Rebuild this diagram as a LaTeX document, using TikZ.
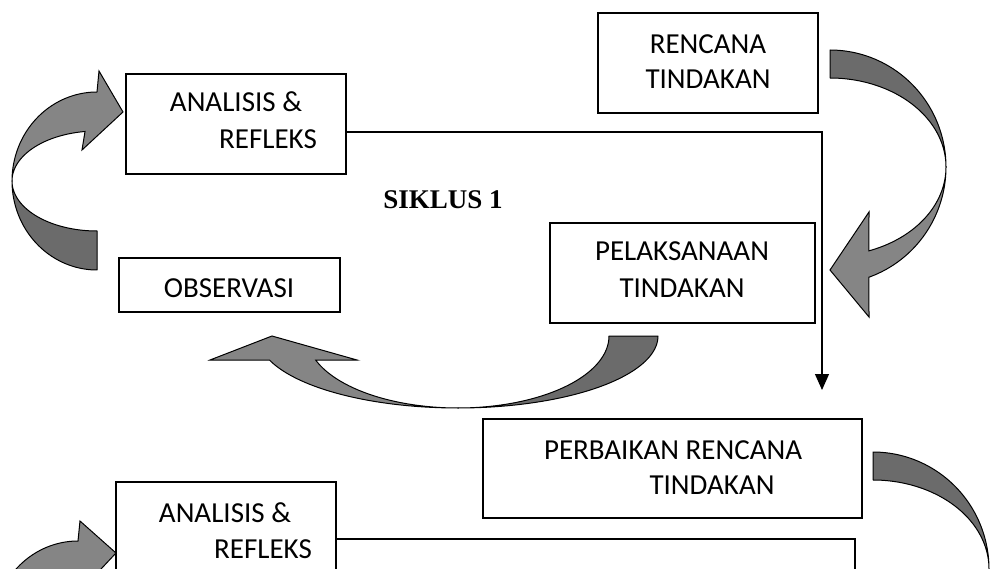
\documentclass[tikz,border=0pt]{standalone}
\usepackage{fontspec}
\setmainfont{Carlito}
\newfontfamily\serifb{Liberation Serif}
\usetikzlibrary{arrows.meta}
\definecolor{bandDark}{HTML}{6B6B6B}
\definecolor{bandLight}{HTML}{858585}
\begin{document}
\begin{tikzpicture}[x=1pt,y=-1pt,
  box/.style={draw=black, fill=white, line width=1.2pt, rectangle, inner sep=0pt, outer sep=0pt, anchor=north west},
  lbl/.style={anchor=base, inner sep=0pt, font=\fontsize{29}{35}\selectfont},
  darkband/.style={fill=bandDark, draw=black, line width=1pt, line join=round},
  lightband/.style={fill=bandLight, draw=black, line width=1pt, line join=miter},
  conn/.style={draw=black, line width=1.2pt},
  samples=45]
\useasboundingbox (0,0) rectangle (998,569);
\clip (0,0) rectangle (998,569);

% curved arrow: top-left (OBSERVASI -> ANALISIS)
\filldraw[darkband] plot[domain=180:90] ({97+85*cos(\x)},{181+89*sin(\x)}) -- plot[domain=90:180] ({97+85*cos(\x)},{181+50*sin(\x)}) -- cycle;
\filldraw[lightband] plot[domain=180:270] ({97+85*cos(\x)},{181+89*sin(\x)}) -- (99,71) -- (123,112) -- (82,150) -- plot[domain=261.9:180] ({97+85*cos(\x)},{181+50*sin(\x)}) -- cycle;

% curved arrow: right (RENCANA -> PELAKSANAAN)
\filldraw[darkband] plot[domain=-90:0] ({830+116*cos(\x)},{167+117*sin(\x)}) -- plot[domain=0:-90] ({830+116*cos(\x)},{167+89*sin(\x)}) -- cycle;
\filldraw[lightband] plot[domain=0:70.4] ({830+116*cos(\x)},{167+117*sin(\x)}) -- (869,317) -- (830,270) -- (869,212) -- plot[domain=70.4:0] ({830+116*cos(\x)},{167+89*sin(\x)}) -- cycle;

% curved arrow: bottom (PELAKSANAAN -> OBSERVASI)
\filldraw[darkband] plot[domain=0:90] ({458+200*cos(\x)},{336+72*sin(\x)}) -- plot[domain=90:0] ({458+151*cos(\x)},{336+72*sin(\x)}) -- cycle;
\filldraw[lightband] plot[domain=90:160.5] ({458+200*cos(\x)},{336+72*sin(\x)}) -- (210,360) -- (272,336) -- (357,360) -- plot[domain=160.5:90] ({458+151*cos(\x)},{336+72*sin(\x)}) -- cycle;

% curved arrow: bottom-left (partial)
\filldraw[lightband] plot[domain=180:270] ({78+85*cos(\x)},{630+89*sin(\x)}) -- (80,521) -- (116,553) -- (72,600) -- plot[domain=265:180] ({78+85*cos(\x)},{630+50*sin(\x)}) -- cycle;

% curved arrow: bottom-right (partial)
\filldraw[darkband] plot[domain=-90:0] ({873+116*cos(\x)},{569+117*sin(\x)}) -- plot[domain=0:-90] ({873+116*cos(\x)},{569+89*sin(\x)}) -- cycle;

% boxes
\node[box, minimum width=220pt, minimum height=100pt] (rencana) at (598,13) {};
\node[box, minimum width=220pt, minimum height=100pt] (analisis1) at (126,74) {};
\node[box, minimum width=221pt, minimum height=54pt] (observasi) at (119,258) {};
\node[box, minimum width=265pt, minimum height=100pt] (pelaksanaan) at (550,223) {};
\node[box, minimum width=379pt, minimum height=99pt] (perbaikan) at (483,419) {};
\node[box, minimum width=220pt, minimum height=100pt] (analisis2) at (116,482) {};

% texts
\node[lbl] (tren1) at (708,54) {RENCANA};
\node[lbl] (tren2) at (708,89) {TINDAKAN};
\node[lbl] (tana1) at (236,112) {ANALISIS \&};
\node[lbl] (tana2) at (268,149) {REFLEKS};
\node[lbl] (tobs) at (229,297) {OBSERVASI};
\node[lbl] (tpel1) at (682,261) {PELAKSANAAN};
\node[lbl] (tpel2) at (682,297) {TINDAKAN};
\node[lbl] (tper1) at (673,459) {PERBAIKAN RENCANA};
\node[lbl] (tper2) at (712,494) {TINDAKAN};
\node[lbl] (tanb1) at (225,522) {ANALISIS \&};
\node[lbl] (tanb2) at (263,558) {REFLEKS};
\node[anchor=base, inner sep=0pt, font=\serifb\bfseries\fontsize{27}{32}\selectfont] (siklus) at (443,209) {SIKLUS 1};

% connectors
\coordinate (c1) at (822,132);
\coordinate (t1) at (822,390);
\draw[conn, -{Triangle[width=14pt,length=16pt]}] (analisis1.east |- c1) -- (c1) -- (t1);
\coordinate (c2) at (855,539);
\coordinate (e2) at (855,580);
\draw[conn] (analisis2.east |- c2) -- (c2) -- (e2);
\end{tikzpicture}
\end{document}
